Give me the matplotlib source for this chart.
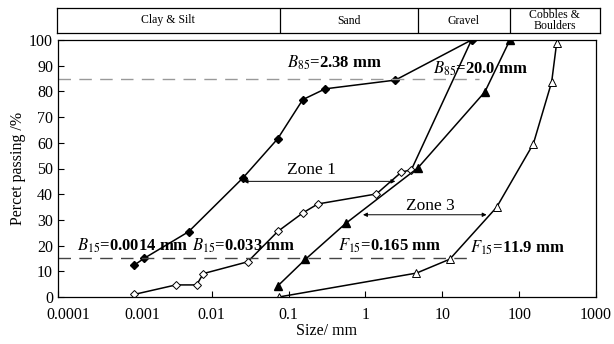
import numpy as np
import matplotlib
matplotlib.use("Agg")
import matplotlib.pyplot as plt
from matplotlib.transforms import ScaledTranslation

plt.rcParams['font.family'] = ['Liberation Serif', 'DejaVu Serif']
plt.rcParams['mathtext.fontset'] = 'stix'

# curve data (size in mm, percent passing)
b_fine_x = [0.00098, 0.00133, 0.0050, 0.0256, 0.0723, 0.153, 0.300, 2.45, 24.0]
b_fine_y = [12.4, 15.1, 25.4, 46.4, 61.6, 76.8, 81.0, 84.4, 100]

b_coarse_x = [0.00098, 0.00342, 0.00636, 0.00777, 0.0294, 0.0723, 0.153, 0.240, 1.39, 2.94, 3.96, 24.0]
b_coarse_y = [1.0, 4.7, 4.7, 9.1, 13.7, 25.5, 32.7, 36.2, 40.1, 48.6, 49.5, 100]

f_fine_x = [0.0723, 0.166, 0.552, 4.84, 35.8, 75.9]
f_fine_y = [4.3, 14.7, 28.6, 50.3, 79.8, 100]

f_coarse_x = [0.0745, 4.61, 12.5, 50.9, 153, 265, 308]
f_coarse_y = [0.0, 9.3, 14.7, 34.9, 59.6, 83.7, 99.0]

# soil classes band
class_names = ["Clay & Silt", "Sand", "Gravel", "Cobbles &\nBoulders"]
class_edges = [10**-4.026, 0.075, 4.75, 75, 10**3.052]

x_ticks = [1e-4, 1e-3, 1e-2, 1e-1, 1, 10, 100, 1000]
x_ticklabels = ["0.0001", "0.001", "0.01", "0.1", "1", "10", "100", "1000"]

fig = plt.figure(figsize=(6.14, 3.44), dpi=100)
ax = fig.add_axes([58/614, 47/344, 538/614, 257/344])

ax.plot(b_coarse_x, b_coarse_y, color="black", lw=1.1, marker="D", ms=3.8,
        mfc="white", mec="black", mew=0.7)
ax.plot(b_fine_x, b_fine_y, color="black", lw=1.1, marker="D", ms=4.2,
        mfc="black", mec="black")
ax.plot(f_fine_x, f_fine_y, color="black", lw=1.1, marker="^", ms=5.5,
        mfc="black", mec="black")
ax.plot(f_coarse_x, f_coarse_y, color="black", lw=1.1, marker="^", ms=5.5,
        mfc="white", mec="black", mew=0.7)

# reference lines
ax.plot([1e-4, 30], [85, 85], color="#999999", lw=1.0, dashes=(9, 6))
ax.plot([1e-4, 21], [15, 15], color="#444444", lw=1.0, dashes=(9, 6))

# zone arrows
ax.annotate("", xy=(0.026, 45), xytext=(2.45, 45),
            arrowprops=dict(arrowstyle="<|-|>", lw=0.7, color="black",
                            mutation_scale=6, shrinkA=0, shrinkB=0))
ax.text(0.2, 49.5, "Zone 1", ha="center", va="center", fontsize=12.5)
ax.annotate("", xy=(0.93, 32), xytext=(37.7, 32),
            arrowprops=dict(arrowstyle="<|-|>", lw=0.7, color="black",
                            mutation_scale=6, shrinkA=0, shrinkB=0))
ax.text(6.9, 35.5, "Zone 3", ha="center", va="center", fontsize=12.5)

# labels
ax.text(0.094, 91, r"$B_{85}$=2.38 mm", fontsize=12, fontweight="bold", va="center")
ax.text(7.5, 88.7, r"$B_{85}$=20.0 mm", fontsize=12, fontweight="bold", va="center")
ax.text(1.77e-4, 19.8, r"$B_{15}$=0.0014 mm", fontsize=12, fontweight="bold", va="center")
ax.text(0.0056, 19.8, r"$B_{15}$=0.033 mm", fontsize=12, fontweight="bold", va="center")
ax.text(0.434, 20, r"$F_{15}$=0.165 mm", fontsize=12, fontweight="bold", va="center")
ax.text(22.8, 19, r"$F_{15}$=11.9 mm", fontsize=12, fontweight="bold", va="center")

ax.set_xscale("log")
ax.set_xlim(1e-4, 1e3)
ax.set_ylim(0, 100)
ax.set_xticks(x_ticks)
ax.set_xticklabels(x_ticklabels)
ax.xaxis.set_minor_locator(matplotlib.ticker.NullLocator())
ax.set_yticks(range(0, 101, 10))
ax.tick_params(direction="in", labelsize=11.5, length=4, width=0.8)
ax.tick_params(axis="x", pad=7)
ax.set_xlabel("Size/ mm", fontsize=11.5, labelpad=0)
ax.set_ylabel("Percet passing /%", fontsize=11.5, labelpad=2)
for s in ax.spines.values():
    s.set_linewidth(0.9)

# the first two x labels sit a little right of their ticks
fig.canvas.draw()
xl = ax.get_xticklabels()
xl[0].set_transform(xl[0].get_transform() + ScaledTranslation(0.1, 0, fig.dpi_scale_trans))
xl[1].set_transform(xl[1].get_transform() + ScaledTranslation(0.07, 0, fig.dpi_scale_trans))

# class band
band = fig.add_axes([57/614, 311/344, 543/614, 25/344])
band.set_xscale("log")
band.set_xlim(class_edges[0], class_edges[-1])
band.set_ylim(0, 1)
for e in class_edges[1:-1]:
    band.axvline(e, color="black", lw=0.9)
for i, name in enumerate(class_names):
    xc = np.sqrt(class_edges[i] * class_edges[i + 1])
    band.text(xc, 0.5, name, ha="center", va="center", fontsize=8.5, linespacing=0.9)
band.set_xticks([])
band.set_yticks([])
band.xaxis.set_minor_locator(matplotlib.ticker.NullLocator())
for s in band.spines.values():
    s.set_linewidth(0.9)

fig.savefig("out.png", dpi=100)
